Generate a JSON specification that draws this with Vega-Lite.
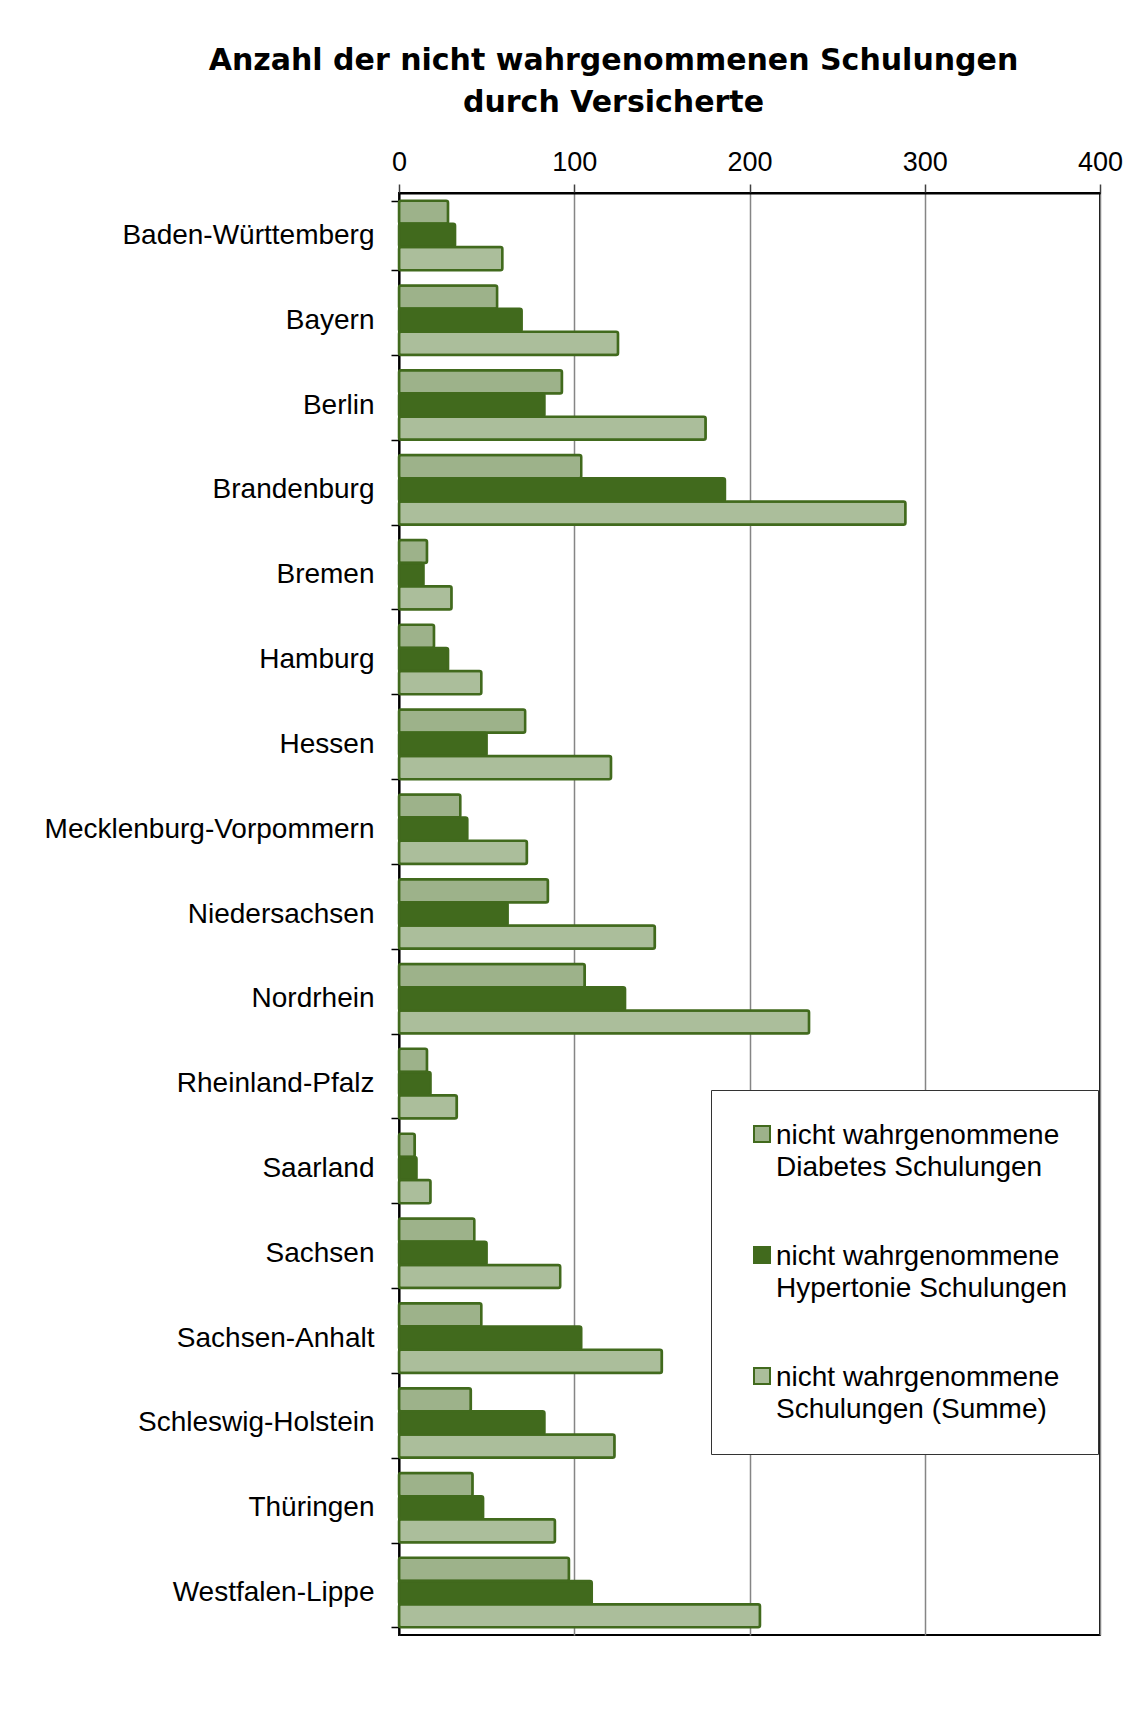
{
  "$schema": "https://vega.github.io/schema/vega-lite/v6.json",
  "width": 701,
  "height": 1442,
  "autosize": {"type": "none"},
  "padding": {"left": 399, "top": 193, "right": 28, "bottom": 81},
  "background": "white",
  "title": {
    "text": ["Anzahl der nicht wahrgenommenen Schulungen", "durch Versicherte"],
    "font": "DejaVu Sans",
    "fontSize": 30,
    "fontWeight": "bold",
    "color": "black",
    "anchor": "middle",
    "frame": "group",
    "dx": -136,
    "offset": 30,
    "lineHeight": 42
  },
  "data": {
    "values": [
      {"land": "Baden-Württemberg", "serie": "nicht wahrgenommene Diabetes Schulungen", "wert": 28},
      {"land": "Baden-Württemberg", "serie": "nicht wahrgenommene Hypertonie Schulungen", "wert": 32},
      {"land": "Baden-Württemberg", "serie": "nicht wahrgenommene Schulungen (Summe)", "wert": 59},
      {"land": "Bayern", "serie": "nicht wahrgenommene Diabetes Schulungen", "wert": 56},
      {"land": "Bayern", "serie": "nicht wahrgenommene Hypertonie Schulungen", "wert": 70},
      {"land": "Bayern", "serie": "nicht wahrgenommene Schulungen (Summe)", "wert": 125},
      {"land": "Berlin", "serie": "nicht wahrgenommene Diabetes Schulungen", "wert": 93},
      {"land": "Berlin", "serie": "nicht wahrgenommene Hypertonie Schulungen", "wert": 83},
      {"land": "Berlin", "serie": "nicht wahrgenommene Schulungen (Summe)", "wert": 175},
      {"land": "Brandenburg", "serie": "nicht wahrgenommene Diabetes Schulungen", "wert": 104},
      {"land": "Brandenburg", "serie": "nicht wahrgenommene Hypertonie Schulungen", "wert": 186},
      {"land": "Brandenburg", "serie": "nicht wahrgenommene Schulungen (Summe)", "wert": 289},
      {"land": "Bremen", "serie": "nicht wahrgenommene Diabetes Schulungen", "wert": 16},
      {"land": "Bremen", "serie": "nicht wahrgenommene Hypertonie Schulungen", "wert": 14},
      {"land": "Bremen", "serie": "nicht wahrgenommene Schulungen (Summe)", "wert": 30},
      {"land": "Hamburg", "serie": "nicht wahrgenommene Diabetes Schulungen", "wert": 20},
      {"land": "Hamburg", "serie": "nicht wahrgenommene Hypertonie Schulungen", "wert": 28},
      {"land": "Hamburg", "serie": "nicht wahrgenommene Schulungen (Summe)", "wert": 47},
      {"land": "Hessen", "serie": "nicht wahrgenommene Diabetes Schulungen", "wert": 72},
      {"land": "Hessen", "serie": "nicht wahrgenommene Hypertonie Schulungen", "wert": 50},
      {"land": "Hessen", "serie": "nicht wahrgenommene Schulungen (Summe)", "wert": 121},
      {"land": "Mecklenburg-Vorpommern", "serie": "nicht wahrgenommene Diabetes Schulungen", "wert": 35},
      {"land": "Mecklenburg-Vorpommern", "serie": "nicht wahrgenommene Hypertonie Schulungen", "wert": 39},
      {"land": "Mecklenburg-Vorpommern", "serie": "nicht wahrgenommene Schulungen (Summe)", "wert": 73},
      {"land": "Niedersachsen", "serie": "nicht wahrgenommene Diabetes Schulungen", "wert": 85},
      {"land": "Niedersachsen", "serie": "nicht wahrgenommene Hypertonie Schulungen", "wert": 62},
      {"land": "Niedersachsen", "serie": "nicht wahrgenommene Schulungen (Summe)", "wert": 146},
      {"land": "Nordrhein", "serie": "nicht wahrgenommene Diabetes Schulungen", "wert": 106},
      {"land": "Nordrhein", "serie": "nicht wahrgenommene Hypertonie Schulungen", "wert": 129},
      {"land": "Nordrhein", "serie": "nicht wahrgenommene Schulungen (Summe)", "wert": 234},
      {"land": "Rheinland-Pfalz", "serie": "nicht wahrgenommene Diabetes Schulungen", "wert": 16},
      {"land": "Rheinland-Pfalz", "serie": "nicht wahrgenommene Hypertonie Schulungen", "wert": 18},
      {"land": "Rheinland-Pfalz", "serie": "nicht wahrgenommene Schulungen (Summe)", "wert": 33},
      {"land": "Saarland", "serie": "nicht wahrgenommene Diabetes Schulungen", "wert": 9},
      {"land": "Saarland", "serie": "nicht wahrgenommene Hypertonie Schulungen", "wert": 10},
      {"land": "Saarland", "serie": "nicht wahrgenommene Schulungen (Summe)", "wert": 18},
      {"land": "Sachsen", "serie": "nicht wahrgenommene Diabetes Schulungen", "wert": 43},
      {"land": "Sachsen", "serie": "nicht wahrgenommene Hypertonie Schulungen", "wert": 50},
      {"land": "Sachsen", "serie": "nicht wahrgenommene Schulungen (Summe)", "wert": 92},
      {"land": "Sachsen-Anhalt", "serie": "nicht wahrgenommene Diabetes Schulungen", "wert": 47},
      {"land": "Sachsen-Anhalt", "serie": "nicht wahrgenommene Hypertonie Schulungen", "wert": 104},
      {"land": "Sachsen-Anhalt", "serie": "nicht wahrgenommene Schulungen (Summe)", "wert": 150},
      {"land": "Schleswig-Holstein", "serie": "nicht wahrgenommene Diabetes Schulungen", "wert": 41},
      {"land": "Schleswig-Holstein", "serie": "nicht wahrgenommene Hypertonie Schulungen", "wert": 83},
      {"land": "Schleswig-Holstein", "serie": "nicht wahrgenommene Schulungen (Summe)", "wert": 123},
      {"land": "Thüringen", "serie": "nicht wahrgenommene Diabetes Schulungen", "wert": 42},
      {"land": "Thüringen", "serie": "nicht wahrgenommene Hypertonie Schulungen", "wert": 48},
      {"land": "Thüringen", "serie": "nicht wahrgenommene Schulungen (Summe)", "wert": 89},
      {"land": "Westfalen-Lippe", "serie": "nicht wahrgenommene Diabetes Schulungen", "wert": 97},
      {"land": "Westfalen-Lippe", "serie": "nicht wahrgenommene Hypertonie Schulungen", "wert": 110},
      {"land": "Westfalen-Lippe", "serie": "nicht wahrgenommene Schulungen (Summe)", "wert": 206}
    ]
  },
  "mark": {"type": "bar", "stroke": "#416A1D", "strokeWidth": 2.5, "cornerRadius": 2},
  "encoding": {
    "y": {
      "field": "land",
      "type": "nominal",
      "sort": null,
      "scale": {"paddingInner": 0.18, "paddingOuter": 0.09},
      "axis": {
        "title": null,
        "labelFont": "Liberation Sans",
        "labelFontSize": 28,
        "labelColor": "black",
        "labelPadding": 17,
        "labelLimit": 400,
        "tickSize": 8,
        "tickColor": "black",
        "tickWidth": 1.5,
        "tickBand": "extent",
        "domainColor": "black",
        "domainWidth": 2,
        "grid": false
      }
    },
    "yOffset": {
      "field": "serie",
      "type": "nominal",
      "sort": ["nicht wahrgenommene Diabetes Schulungen", "nicht wahrgenommene Hypertonie Schulungen", "nicht wahrgenommene Schulungen (Summe)"],
      "scale": {"paddingInner": 0, "paddingOuter": 0}
    },
    "x": {
      "field": "wert",
      "type": "quantitative",
      "scale": {"domain": [0, 400], "nice": false},
      "axis": {
        "orient": "top",
        "values": [0, 100, 200, 300, 400],
        "title": null,
        "labelFont": "Liberation Sans",
        "labelFontSize": 27,
        "labelColor": "black",
        "labelPadding": 8,
        "labelFlush": false,
        "tickSize": 9,
        "tickColor": "#404040",
        "tickWidth": 1.5,
        "domainColor": "black",
        "domainWidth": 2,
        "grid": true,
        "gridColor": "#858585",
        "gridWidth": 1.5
      }
    },
    "color": {
      "field": "serie",
      "type": "nominal",
      "scale": {
        "domain": ["nicht wahrgenommene Diabetes Schulungen", "nicht wahrgenommene Hypertonie Schulungen", "nicht wahrgenommene Schulungen (Summe)"],
        "range": ["#9DB28A", "#416A1D", "#ABBE9B"]
      },
      "legend": {
        "title": null,
        "orient": "none",
        "legendX": 312,
        "legendY": 897,
        "direction": "vertical",
        "padding": 30,
        "strokeColor": "#333333",
        "fillColor": "white",
        "symbolType": "square",
        "symbolSize": 256,
        "symbolStrokeColor": "#416A1D",
        "symbolStrokeWidth": 2,
        "symbolOffset": 7,
        "labelFont": "Liberation Sans",
        "labelFontSize": 28,
        "labelColor": "black",
        "labelOffset": 0,
        "labelLimit": 400,
        "labelBaseline": "alphabetic",
        "labelExpr": "['nicht wahrgenommene', substring(datum.label, 20)]",
        "rowPadding": 59,
        "encode": {
          "labels": {"update": {"dy": {"value": 10}, "lineHeight": {"value": 32}}}
        }
      }
    }
  },
  "config": {
    "view": {"stroke": "black", "strokeWidth": 2}
  }
}
